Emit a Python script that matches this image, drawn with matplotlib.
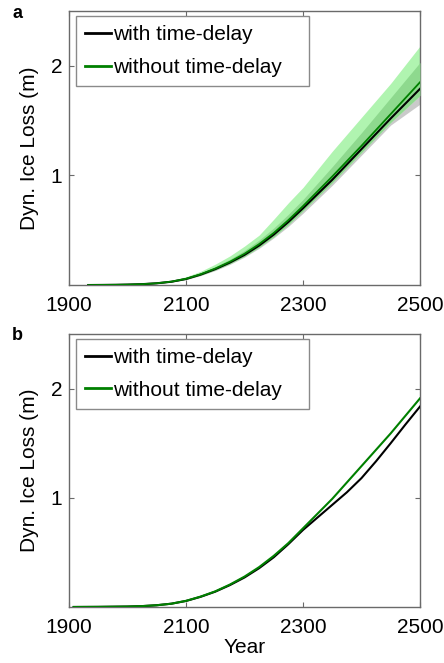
import matplotlib
matplotlib.use("Agg")
import matplotlib.pyplot as plt

plt.rcParams['font.family'] = ['Liberation Sans', 'DejaVu Sans']

# ---------------- data ----------------
years_a = [1933, 1980, 2000, 2025, 2050, 2075, 2100, 2125, 2150, 2175, 2200,
           2225, 2250, 2275, 2300, 2350, 2400, 2450, 2500]
with_a = [0.0, 0.002, 0.004, 0.008, 0.016, 0.030, 0.055, 0.095, 0.145, 0.205,
          0.275, 0.360, 0.460, 0.575, 0.700, 0.960, 1.240, 1.520, 1.790]
without_a = [0.0, 0.002, 0.004, 0.008, 0.016, 0.031, 0.057, 0.098, 0.150, 0.212,
             0.285, 0.373, 0.475, 0.592, 0.720, 0.990, 1.270, 1.560, 1.850]

years_band = [2000, 2025, 2050, 2075, 2100, 2125, 2150, 2175, 2200, 2225, 2250,
              2275, 2300, 2350, 2400, 2450, 2500]
without_hi = [0.005, 0.012, 0.024, 0.043, 0.075, 0.125, 0.190, 0.265, 0.355,
              0.455, 0.600, 0.750, 0.890, 1.220, 1.530, 1.840, 2.180]
without_lo = [0.004, 0.007, 0.015, 0.028, 0.052, 0.090, 0.138, 0.195, 0.262,
              0.345, 0.440, 0.552, 0.678, 0.935, 1.210, 1.485, 1.730]
with_hi = [0.004, 0.010, 0.020, 0.037, 0.066, 0.110, 0.168, 0.235, 0.315,
           0.410, 0.520, 0.645, 0.780, 1.080, 1.390, 1.710, 2.030]
with_lo = [0.003, 0.007, 0.014, 0.026, 0.049, 0.086, 0.132, 0.188, 0.255,
           0.335, 0.430, 0.535, 0.655, 0.910, 1.185, 1.460, 1.650]

years_b = [1908, 1950, 2000, 2025, 2050, 2075, 2100, 2125, 2150, 2175, 2200,
           2225, 2250, 2275, 2300, 2325, 2350, 2375, 2400, 2425, 2450, 2475, 2500]
with_b = [0.0, 0.001, 0.004, 0.008, 0.016, 0.030, 0.055, 0.093, 0.140, 0.200,
          0.270, 0.355, 0.455, 0.575, 0.705, 0.820, 0.935, 1.050, 1.180, 1.335,
          1.500, 1.670, 1.835]
without_b = [0.0, 0.001, 0.004, 0.008, 0.016, 0.030, 0.056, 0.095, 0.143, 0.205,
             0.278, 0.365, 0.468, 0.585, 0.720, 0.855, 0.990, 1.140, 1.290, 1.440,
             1.590, 1.750, 1.910]

labels = ['with time-delay', 'without time-delay']
xticks = [1900, 2100, 2300, 2500]
yticks = [1, 2]

# ---------------- style ----------------
FS = 15
SPINE = '#6a6a6a'
C_BLACK = '#000000'
C_GREEN = '#008000'
C_LIGHT = '#b0f4b0'
C_MED = '#8ed98e'
C_GRAY = '#cacaca'

fig = plt.figure(figsize=(4.44, 6.63), dpi=100)
ax_a = fig.add_axes([0.1554, 0.5701, 0.7905, 0.4133])
ax_b = fig.add_axes([0.1554, 0.0845, 0.7905, 0.4118])

# panel a bands
ax_a.fill_between(years_band, with_lo, with_hi, color=C_GRAY, lw=0, zorder=1)
ax_a.fill_between(years_band, without_lo, without_hi, color=C_LIGHT, lw=0, zorder=2)
ax_a.fill_between(years_band, without_lo, with_hi, color=C_MED, lw=0, zorder=3)
ax_a.plot(years_a, with_a, color=C_BLACK, lw=1.5, label=labels[0], zorder=5)
ax_a.plot(years_a, without_a, color=C_GREEN, lw=1.3, label=labels[1], zorder=6)

ax_b.plot(years_b, with_b, color=C_BLACK, lw=1.5, label=labels[0], zorder=5)
ax_b.plot(years_b, without_b, color=C_GREEN, lw=1.5, label=labels[1], zorder=6)

for ax in (ax_a, ax_b):
    ax.set_xlim(1900, 2500)
    ax.set_ylim(0, 2.5)
    ax.set_xticks(xticks)
    ax.set_yticks(yticks)
    ax.set_xticklabels([str(v) for v in xticks])
    ax.set_yticklabels([str(v) for v in yticks])
    ax.tick_params(axis='both', direction='in', length=3.6, width=0.8,
                   color=SPINE, labelsize=FS, top=True, right=True)
    ax.tick_params(axis='x', pad=8)
    ax.tick_params(axis='y', pad=5)
    for s in ax.spines.values():
        s.set_color(SPINE)
        s.set_linewidth(1.0)
    ax.set_ylabel('Dyn. Ice Loss (m)', fontsize=FS, labelpad=8)
    leg = ax.legend(loc='upper left', bbox_to_anchor=(0.02, 0.982, 0.664, 0),
                    mode='expand', borderaxespad=0, fontsize=FS,
                    handlelength=1.25, handletextpad=0.1, borderpad=0.45,
                    labelspacing=0.65, fancybox=False, framealpha=1,
                    edgecolor='#8a8a8a')
    leg.get_frame().set_linewidth(1.0)
    for ln in leg.get_lines():
        ln.set_linewidth(2.0)

ax_b.set_xlabel('Year', fontsize=FS, labelpad=1)

fig.text(12 / 444, 1 - 14 / 663, 'a', fontsize=13, fontweight='bold', va='center', ha='left')
fig.text(12 / 444, 1 - 336 / 663, 'b', fontsize=13, fontweight='bold', va='center', ha='left')

fig.savefig('out.png', dpi=100)
